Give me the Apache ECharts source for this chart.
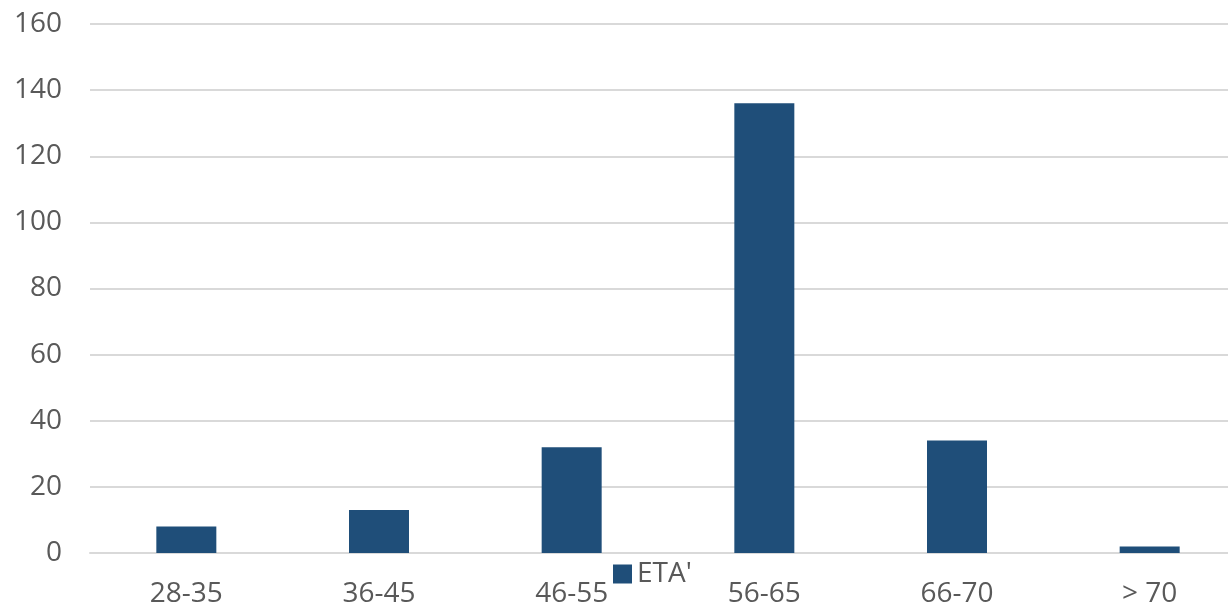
<!DOCTYPE html>
<html><head><meta charset="utf-8">
<script src="https://cdn.jsdelivr.net/npm/echarts@6/dist/echarts.min.js"></script>
<style>html,body{margin:0;padding:0;background:#fff}#c{width:1228px;height:607px}</style>
</head><body><div id="c"></div>
<script>
const categories = ['28-35','36-45','46-55','56-65','66-70','> 70'];
const seriesName = "ETA'";
const values = [8, 13, 32, 136, 34, 2];
const yTicks = {min: 0, max: 160, interval: 20};
const chart = echarts.init(document.getElementById('c'));
const font = '"Open Sans", "Liberation Sans", sans-serif';
chart.setOption({
  animation: false,
  textStyle: {fontFamily: font},
  grid: {left: 90, width: 1156, top: 24, height: 529, containLabel: false, outerBoundsMode: 'none'},
  legend: {
    data: [seriesName], left: 608, top: 555, itemWidth: 19, itemHeight: 19, itemGap: 6,
    icon: 'rect',
    textStyle: {color: '#595959', fontSize: 28, fontFamily: font}
  },
  xAxis: {
    type: 'category', data: categories,
    axisLine: {lineStyle: {color: '#d9d9d9', width: 2}},
    axisTick: {show: false},
    axisLabel: {color: '#595959', fontSize: 28, margin: 27, fontFamily: font}
  },
  yAxis: {
    type: 'value', min: yTicks.min, max: yTicks.max, interval: yTicks.interval,
    axisLine: {show: false}, axisTick: {show: false},
    axisLabel: {color: '#595959', fontSize: 28, margin: 28, fontFamily: font},
    splitLine: {lineStyle: {color: '#d9d9d9', width: 2}}
  },
  series: [{
    name: seriesName, type: 'bar', data: values, barWidth: 60,
    itemStyle: {color: '#1f4e79'}
  }]
});
</script></body></html>
